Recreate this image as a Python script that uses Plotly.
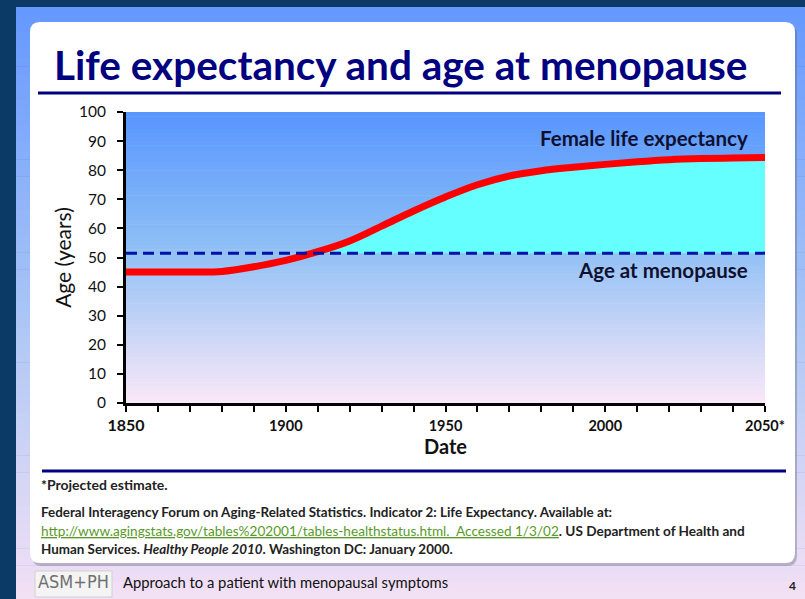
import plotly.graph_objects as go

# ---------------- data ----------------
years = [1850, 1860, 1870, 1880, 1890, 1900, 1910, 1920, 1930, 1940, 1950,
         1960, 1970, 1980, 1990, 2000, 2010, 2020, 2030, 2040, 2050]
female_life_expectancy = [45, 45, 45, 45.2, 46.8, 49, 52, 55.7, 60.8, 66, 70.8,
                          75, 78, 79.8, 81, 82, 82.9, 83.6, 84, 84.2, 84.4]
menopause_age = 51.5
x_tick_vals = list(range(1850, 2051, 10))
x_tick_labels = {1850: "1850", 1900: "1900", 1950: "1950", 2000: "2000", 2050: "2050*"}
y_tick_vals = list(range(0, 101, 10))

W, H = 805, 599
FONT = "Lato"
NAVY = "#000080"


def px(x):
    return x / W


def py(y):
    return 1 - y / H


def lerp(c1, c2, t):
    return "rgb(%d,%d,%d)" % tuple(round(a + (b - a) * t) for a, b in zip(c1, c2))


shapes = []


def grad_rect(x0, y0, x1, y1, stops, n=60):
    h = (y1 - y0) / n
    for i in range(n):
        t = (i + 0.5) / n
        for k in range(len(stops) - 1):
            p0, c0 = stops[k]
            p1, c1 = stops[k + 1]
            if p0 <= t <= p1:
                col = lerp(c0, c1, (t - p0) / (p1 - p0))
                break
        shapes.append(dict(type="rect", xref="paper", yref="paper",
                           x0=px(x0), x1=px(x1), y0=py(y0 + i * h), y1=py(y0 + (i + 1) * h + 0.6),
                           fillcolor=col, line_width=0, layer="below"))


def rounded_rect(x0, y0, x1, y1, r, fill):
    rx, ry = r / W, r / H
    X0, X1, Y0, Y1 = px(x0), px(x1), py(y0), py(y1)
    path = (f"M {X0+rx},{Y0} L {X1-rx},{Y0} Q {X1},{Y0} {X1},{Y0-ry} "
            f"L {X1},{Y1+ry} Q {X1},{Y1} {X1-rx},{Y1} L {X0+rx},{Y1} "
            f"Q {X0},{Y1} {X0},{Y1+ry} L {X0},{Y0-ry} Q {X0},{Y0} {X0+rx},{Y0} Z")
    shapes.append(dict(type="path", xref="paper", yref="paper", path=path,
                       fillcolor=fill, line_width=0, layer="below"))


grad_rect(16, 7, W, H, [(0, (100, 152, 255)), (0.55, (175, 200, 245)), (1, (243, 224, 245))], n=70)
rounded_rect(32, 25, 797, 566, 10, "rgba(90,90,110,0.35)")
rounded_rect(30, 22, 795, 563, 10, "white")
grad_rect(126, 112, 765, 403, [(0, (88, 150, 255)), (0.45, (140, 190, 245)), (1, (250, 232, 248))], n=70)
shapes.append(dict(type="line", xref="paper", yref="paper", x0=px(38), x1=px(781),
                   y0=py(93), y1=py(93), line=dict(color=NAVY, width=3)))
shapes.append(dict(type="line", xref="paper", yref="paper", x0=px(42), x1=px(786),
                   y0=py(471), y1=py(471), line=dict(color=NAVY, width=3)))
shapes.append(dict(type="rect", xref="paper", yref="paper", x0=px(35), x1=px(112),
                   y0=py(597), y1=py(571), fillcolor="#f4f4f4", line=dict(color="#d0d0d0", width=1)))

fig = go.Figure()

upper = [max(v, menopause_age) for v in female_life_expectancy]
fig.add_trace(go.Scatter(x=years, y=[menopause_age] * len(years), mode="lines",
                         line=dict(width=0), hoverinfo="skip", showlegend=False))
fig.add_trace(go.Scatter(x=years, y=upper, mode="lines", line=dict(width=0, shape="spline"),
                         fill="tonexty", fillcolor="#66ffff", hoverinfo="skip", showlegend=False))
fig.add_trace(go.Scatter(x=years, y=female_life_expectancy, mode="lines",
                         name="Female life expectancy",
                         line=dict(color="#ff0000", width=7, shape="spline"), showlegend=False))
fig.add_trace(go.Scatter(x=[years[0], years[-1]], y=[menopause_age, menopause_age], mode="lines",
                         name="Age at menopause",
                         line=dict(color="#0010a8", width=3, dash="11px,6px"), showlegend=False))


def ann(text, x, y, size, color="#222", xanchor="left", family=FONT):
    return dict(text=text, x=px(x), y=py(y), xref="paper", yref="paper", xanchor=xanchor,
                yanchor="middle", showarrow=False, font=dict(size=size, color=color, family=family))


annotations = [
    ann("<b>Life expectancy and age at menopause</b>", 52, 64, 40.5, NAVY),
    ann("<b>Female life expectancy</b>", 750, 138, 20.5, "#101030", "right"),
    ann("<b>Age at menopause</b>", 750, 270, 20.5, "#101030", "right"),
    ann("<b>*Projected estimate.</b>", 39, 484, 14),
    ann("<b>Federal Interagency Forum on Aging-Related Statistics. Indicator 2: Life Expectancy. Available at:</b>",
        39, 512, 13.4),
    ann("<span style='color:#5a9a2a;text-decoration:underline'>http://www.agingstats.gov/tables%202001/tables-healthstatus.html.  Accessed 1/3/02</span>"
        "<b>. US Department of Health and</b>", 39, 531, 13.6),
    ann("<b>Human Services. <i>Healthy People 2010</i>. Washington DC: January 2000.</b>", 39, 549, 13.4),
    ann("ASM+PH", 73, 581, 18, "#707070", "center", "DejaVu Sans Condensed"),
    ann("Approach to a patient with menopausal symptoms", 121, 582, 14.8, "#111"),
    ann("<b>4</b>", 792, 585, 12, "#222", "center"),
]

ticktext = []
for v in x_tick_vals:
    lab = x_tick_labels.get(v, "")
    if v == 1850:
        lab = "<span style='font-size:16px'>" + lab + "</span>"
    ticktext.append("<b>" + lab + "</b>" if lab else "")

fig.update_layout(
    width=W, height=H, margin=dict(l=0, r=0, t=0, b=0, autoexpand=False),
    paper_bgcolor="#0b3a66", plot_bgcolor="rgba(0,0,0,0)",
    shapes=shapes, annotations=annotations,
    font=dict(family=FONT, color="#111"),
    xaxis=dict(domain=[px(126), px(765)], range=[1850, 2050], tickvals=x_tick_vals, ticktext=ticktext,
               ticks="outside", ticklen=6, tickwidth=2, tickcolor="black", showline=True,
               linecolor="black", linewidth=3, showgrid=False, zeroline=False, automargin=False,
               tickfont=dict(size=14.5, color="#111", family=FONT), ticklabelstandoff=2,
               title=dict(text="<b>Date</b>", font=dict(size=20, color="#111", family=FONT), standoff=4)),
    yaxis=dict(domain=[py(403), py(112)], range=[0, 100], tickvals=y_tick_vals, ticks="outside",
               ticklen=6, tickwidth=2, tickcolor="black", showline=True, linecolor="black",
               linewidth=3, showgrid=False, zeroline=False, automargin=False,
               tickfont=dict(size=15.5, color="#111", family=FONT), tickprefix="<b>", ticksuffix="</b>",
               ticklabelstandoff=8,
               title=dict(text="Age (years)", font=dict(size=21, color="#111", family=FONT), standoff=2)),
)

fig.write_html("out.html", config={"displayModeBar": False},
               post_script="document.body.style.margin='0';document.body.style.overflow='hidden';")
